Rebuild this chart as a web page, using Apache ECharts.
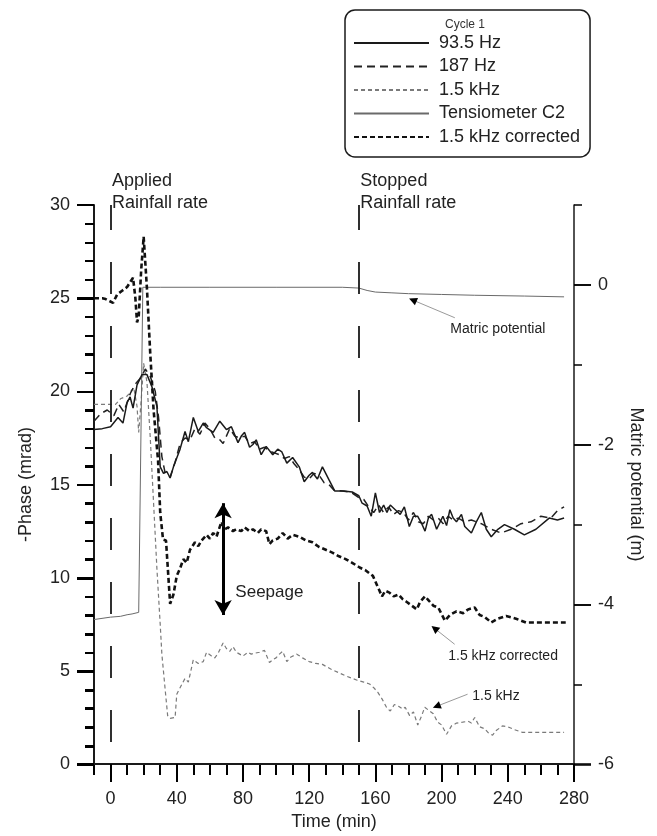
<!DOCTYPE html>
<html>
<head>
<meta charset="utf-8">
<script src="https://cdn.jsdelivr.net/npm/echarts@6/dist/echarts.min.js"></script>
<style>
  html, body { margin: 0; padding: 0; background: #fff; }
  #chart { width: 657px; height: 836px; }
</style>
</head>
<body>
<div id="chart"></div>
<script>
// Time axis (min)
const timeTicks = [0, 40, 80, 120, 160, 200, 240, 280];
const matricMajorTicks = [-6, -4, -2, 0];
const matricMinorTicks = [-5, -3, -1, 1];

// Rainfall applied / stopped (min)
const rainStart = 0;
const rainStop = 150;

// 93.5 Hz
const t935 = [-10, -5, 0, 2.7, 4.5, 7.5, 10, 11.8, 13.6, 16, 19, 22, 25, 28, 30, 32, 34, 36, 38, 42, 45, 47, 50, 53, 56, 58, 62, 66, 70, 73, 77, 79, 81, 84, 86, 88, 91, 94, 98, 101, 103.5, 106.5, 110, 114, 117, 120, 122, 125, 128, 132, 135.5, 141, 146, 150, 152, 155, 157.5, 160, 162.5, 165, 167, 169, 172, 175, 177.5, 180.5, 183, 185.5, 188, 190, 192, 194, 197, 200.8, 203, 205, 207, 209, 212, 214, 218, 221, 224, 227, 230, 234, 238, 244, 250, 257, 265, 270, 274];
const v935 = [17.95, 18.0, 18.1, 18.4, 18.6, 18.3, 19.4, 19.7, 19.1, 20.35, 20.9, 20.9, 20.25, 19.2, 15.95, 15.6, 15.7, 15.35, 15.95, 16.9, 17.85, 17.3, 18.6, 17.85, 18.3, 18.05, 17.8, 18.4, 17.95, 18.1, 17.25, 17.6, 17.8, 17.0, 17.15, 17.4, 16.6, 17.05, 16.6, 16.9, 16.75, 16.15, 16.45, 15.95, 15.15, 15.5, 15.65, 15.3, 15.95, 15.25, 14.65, 14.65, 14.6, 14.4, 14.0, 13.85, 13.3, 14.55, 13.5, 13.9, 13.5, 13.9, 13.65, 13.4, 13.8, 12.75, 13.3, 13.3, 12.9, 12.5, 13.2, 13.4, 12.6, 13.3, 12.8, 13.65, 13.2, 13.0, 13.4, 12.75, 12.4, 13.0, 13.5, 12.6, 12.2, 12.6, 12.85, 12.6, 12.3, 12.6, 13.2, 13.1, 13.2];

// 187 Hz
const t187 = [-10, -6, -2, 2, 5, 8, 12, 15, 18, 21, 24, 27, 29, 31, 33, 36, 39, 42, 45, 48, 51, 54, 57, 60, 63, 66, 68, 72, 75, 78, 81, 84, 87, 90, 93, 96, 99, 102, 105, 108, 111, 114, 117, 120, 123, 126, 129, 132, 135, 140, 145, 150, 153, 156, 159, 162, 165, 168, 171, 174, 177, 180, 183, 186, 189, 192, 195, 198, 201, 204, 207, 210, 214, 218, 224, 230, 236, 242, 248, 254, 260, 266, 270, 274];
const v187 = [18.4, 18.8, 19.0, 18.7, 19.3, 18.9, 19.9, 20.4, 20.7, 21.2, 20.8, 20.0, 18.6, 16.5, 15.6, 15.4, 16.2, 17.2, 17.5, 17.4, 18.0, 17.7, 18.3, 18.0, 17.5, 17.4, 17.2, 18.0, 17.6, 17.5, 17.6, 17.2, 17.3, 16.9, 17.0, 16.8, 16.7, 16.6, 16.4, 16.5, 16.1, 15.8, 15.4, 15.3, 15.6, 15.5, 15.1, 15.0, 14.7, 14.65, 14.6, 14.3, 14.2, 13.8, 13.5, 13.9, 13.5, 13.8, 13.4, 13.6, 13.5, 13.1, 13.5, 13.0, 12.9, 13.3, 13.1, 13.2, 12.9, 13.3, 13.1, 13.2, 13.0, 13.1, 12.9, 12.6, 12.4, 12.6, 12.9, 13.0, 13.3, 13.2, 13.6, 13.8];

// 1.5 kHz
const t15k = [-10, -5, 0, 3, 6, 10, 14, 16, 17, 18.5, 20, 22, 24, 26, 28, 30, 31, 33, 34.5, 36, 39, 40, 42, 45, 47, 50, 53, 56, 58, 61, 63, 65, 68, 70, 72, 74, 76, 78, 80, 83, 85, 87, 90, 93, 96, 98, 100, 102, 104, 106.5, 109, 112.5, 116, 120, 124, 128, 133, 138, 143, 149, 153, 156.5, 159, 161.5, 164, 167, 169, 171.5, 174, 176.5, 178, 180.7, 183, 185.6, 188, 189.8, 192.8, 195, 197.6, 200, 203, 206, 209, 212.7, 216, 218, 220, 223, 226, 228, 230.8, 233, 236.8, 240, 244, 248.9, 255, 262, 268, 274];
const v15k = [19.3, 19.3, 19.3, 19.3, 19.6, 19.75, 20.2, 19.2, 17.8, 19.5, 21.5, 20.5, 17.5, 14.0, 10.5, 7.5, 5.9, 4.0, 2.6, 2.45, 2.5, 3.75, 4.1, 4.6, 4.4, 5.6, 5.4, 5.5, 6.0, 5.8, 5.7, 5.95, 6.5, 6.2, 6.05, 6.3, 6.0, 5.9, 5.8, 6.0, 5.9, 5.95, 6.0, 6.1, 5.45, 5.6, 5.7, 5.9, 6.05, 5.5, 5.75, 5.9, 5.7, 5.5, 5.4, 5.35, 5.1, 4.9, 4.7, 4.5, 4.4, 4.3, 4.1, 3.85, 3.5, 3.0, 2.85, 3.2, 3.1, 2.95, 3.05, 2.6, 2.8, 2.1, 2.6, 3.05, 2.85, 2.7, 2.25, 2.1, 1.6, 2.05, 2.2, 2.25, 2.3, 2.2, 2.5, 2.0, 1.9, 1.7, 1.55, 1.8, 2.05, 2.0, 1.85, 1.7, 1.7, 1.7, 1.7, 1.7];

// Tensiometer C2 (m)
const tTens = [-10, 0, 6, 10, 13, 17, 19.5, 30, 60, 100, 140, 150, 155, 160, 170, 180, 200, 220, 250, 274];
const vTens = [-4.19, -4.16, -4.15, -4.13, -4.12, -4.1, -0.03, -0.03, -0.03, -0.03, -0.03, -0.04, -0.07, -0.09, -0.1, -0.11, -0.12, -0.13, -0.14, -0.15];

// 1.5 kHz corrected
const tCorr = [-10, -5, -3, 1.5, 4, 7, 10, 13.6, 15, 16, 17, 18.5, 20, 22, 24, 26, 28.7, 30, 31.7, 33.5, 36, 38, 40, 42, 44, 46, 48, 51, 53, 55, 58, 60, 62, 64, 67, 69, 71, 74, 76, 79, 81, 84, 86, 89, 91, 94, 96, 98, 101, 104, 107, 110, 114, 118, 122, 126, 130, 134, 138, 142, 146, 150.5, 154, 158.5, 161, 164, 166, 168.5, 171, 174, 176.5, 179, 182, 185, 187, 190, 192, 195, 198, 202, 205, 209, 213, 216, 220, 223, 226, 230, 234, 239, 245, 251, 260, 268, 275];
const vCorr = [25.0, 25.0, 24.95, 24.75, 25.2, 25.4, 25.6, 26.1, 25.0, 23.7, 24.0, 26.5, 28.3, 25.5, 22.0, 19.0, 16.3, 13.5, 12.05, 12.0, 8.6, 9.1, 10.1, 10.5, 11.0, 10.8, 11.5, 11.9, 11.7, 12.0, 12.3, 12.1, 12.4, 12.2, 13.0, 12.6, 12.7, 12.5, 12.6, 12.5, 12.7, 12.5, 12.6, 12.4, 12.6, 12.5, 11.8, 12.0, 12.1, 12.4, 12.1, 12.3, 12.2, 12.0, 11.9, 11.65, 11.5, 11.35, 11.15, 11.0, 10.8, 10.55, 10.4, 10.1, 9.6, 9.0, 9.3, 9.2, 9.0, 9.1, 8.85, 8.7, 8.5, 8.3, 8.7, 9.0, 8.8, 8.5, 8.4, 7.7, 8.0, 8.2, 8.1, 8.3, 8.4, 8.0, 7.9, 7.6, 7.8, 7.95, 7.8, 7.6, 7.6, 7.6, 7.6];

// Seepage span shown by the double arrow (time, low, high)
const seepageTime = 68;
const seepageRange = [8.0, 14.0];

// Callout notes in (time, phase): text anchor, pointer tail, pointer head
const notes = [
  { text: 'Matric potential', at: [205, 23.35], tail: [208, 23.95], head: [182.6, 24.9] },
  { text: '1.5 kHz corrected', at: [203.7, 5.78], tail: [207.9, 6.43], head: [195.8, 7.28] },
  { text: '1.5 kHz', at: [218.2, 3.64], tail: [215.7, 3.75], head: [197, 3.1] }
];

const FONT = "'Liberation Sans', Arial, Helvetica, sans-serif";
const INK = '#1a1a1a';
const TICK = '#000';

function pairs(xs, ys) { return xs.map((x, i) => [x, ys[i]]); }

// A point a small fraction of the way from head back to tail (for the arrowhead stub)
function nearHead(n) {
  const f = 0.08;
  return [n.head[0] + (n.tail[0] - n.head[0]) * f, n.head[1] + (n.tail[1] - n.head[1]) * f];
}

const chart = echarts.init(document.getElementById('chart'), null, { renderer: 'canvas' });

const gridBox = { left: 94, right: 83, top: 205, bottom: 71 };

const hiddenPoint = { symbol: 'circle', symbolSize: 1, itemStyle: { color: 'rgba(0,0,0,0)' } };

// Tick-only axis: no line, no labels, just tick marks of the given length.
function tickAxis(gridIndex, position, min, max, length, width, extra) {
  return Object.assign({
    gridIndex: gridIndex, type: 'value', position: position, min: min, max: max,
    axisLine: { show: false, onZero: false },
    axisTick: Object.assign({ show: true, length: length, lineStyle: { color: TICK, width: width } }, (extra && extra.tick) || {}),
    axisLabel: { show: false },
    splitLine: { show: false }
  }, (extra && extra.axis) || {});
}

// Grid 0 carries the data, axis lines, labels and names.
// Grids 1 and 2 overlay it and carry the minor and major tick marks.
const option = {
  animation: false,
  backgroundColor: '#fff',
  textStyle: { fontFamily: FONT },
  title: {
    text: 'Cycle 1',
    left: 445, top: 19, padding: 0,
    textStyle: { fontSize: 12, fontWeight: 'normal', color: '#333', fontFamily: FONT }
  },
  legend: {
    orient: 'vertical',
    left: 345, top: 10,
    padding: [23, 10, 10, 8],
    itemWidth: 75, itemHeight: 14, itemGap: 3.5,
    borderColor: INK, borderWidth: 1.5, borderRadius: 10,
    backgroundColor: '#fff',
    selectedMode: false,
    itemStyle: { opacity: 0 },
    textStyle: { fontSize: 18, color: '#222', fontFamily: FONT, lineHeight: 20, padding: [0, 0, 0, 5] },
    data: ['93.5 Hz', '187 Hz', '1.5 kHz', 'Tensiometer C2', '1.5 kHz corrected']
  },
  grid: [Object.assign({}, gridBox), Object.assign({}, gridBox), Object.assign({}, gridBox)],
  xAxis: [
    {
      gridIndex: 0, type: 'value', min: -10, max: 280, position: 'bottom',
      axisLine: { show: true, onZero: false, lineStyle: { color: INK, width: 2 } },
      axisTick: { show: true, customValues: timeTicks, length: 17, lineStyle: { color: TICK, width: 2 } },
      axisLabel: { customValues: timeTicks, margin: 26, fontSize: 18, color: '#222', fontFamily: FONT },
      splitLine: { show: false },
      name: 'Time (min)', nameLocation: 'middle', nameGap: 47,
      nameTextStyle: { fontSize: 18, color: '#222', fontFamily: FONT }
    },
    tickAxis(1, 'bottom', -10, 280, 10, 2, { axis: { interval: 10 } }),
    tickAxis(2, 'bottom', -10, 280, 17, 2, { tick: { customValues: timeTicks } })
  ],
  yAxis: [
    {
      gridIndex: 0, type: 'value', position: 'left', min: 0, max: 30, interval: 5,
      axisLine: { show: true, onZero: false, lineStyle: { color: INK, width: 2 } },
      axisTick: { show: true, length: 17, lineStyle: { color: TICK, width: 2 } },
      minorTick: { show: true, splitNumber: 5, length: 9, lineStyle: { color: TICK, width: 2 } },
      minorSplitLine: { show: false },
      axisLabel: { margin: 24, fontSize: 18, color: '#222', fontFamily: FONT },
      splitLine: { show: false },
      name: '-Phase (mrad)', nameLocation: 'middle', nameGap: 59, nameRotate: 90,
      nameTextStyle: { fontSize: 18, color: '#222', fontFamily: FONT }
    },
    {
      gridIndex: 0, type: 'value', position: 'right', min: -6, max: 1,
      axisLine: { show: true, onZero: false, lineStyle: { color: INK, width: 1.5 } },
      axisTick: { show: true, customValues: matricMajorTicks, length: 17, lineStyle: { color: TICK, width: 1.5 } },
      axisLabel: { customValues: matricMajorTicks, margin: 24, fontSize: 18, color: '#222', fontFamily: FONT },
      splitLine: { show: false },
      name: 'Matric potential (m)', nameLocation: 'middle', nameGap: 53, nameRotate: -90,
      nameTextStyle: { fontSize: 18, color: '#222', fontFamily: FONT }
    },
    tickAxis(1, 'right', -6, 1, 8, 1.5, { tick: { customValues: matricMinorTicks } }),
    tickAxis(1, 'left', 0, 30, 9, 2, { axis: { interval: 1 } }),
    tickAxis(2, 'right', -6, 1, 17, 1.5, { tick: { customValues: matricMajorTicks } }),
    tickAxis(2, 'left', 0, 30, 17, 2, { axis: { interval: 5 } })
  ],
  series: [
    {
      name: '93.5 Hz', type: 'line', xAxisIndex: 0, yAxisIndex: 0, clip: false,
      data: pairs(t935, v935), symbol: 'none', z: 4,
      lineStyle: { color: INK, width: 1.5 },
      itemStyle: { color: INK },
      markLine: {
        silent: true, symbol: ['none', 'none'], animation: false,
        label: { show: false },
        lineStyle: { color: INK, width: 1.8, type: [32, 32], dashOffset: 42 },
        data: [
          [{ coord: [rainStart, 0] }, { coord: [rainStart, 30] }],
          [{ coord: [rainStop, 0] }, { coord: [rainStop, 30] }]
        ]
      },
      markPoint: Object.assign({
        silent: true, animation: false,
        label: {
          show: true, position: [2, -34], color: '#222', fontSize: 18, fontFamily: FONT,
          lineHeight: 22, align: 'left', verticalAlign: 'top',
          formatter: (p) => p.name
        },
        data: [
          { name: 'Applied\nRainfall rate', coord: [rainStart, 30] },
          { name: 'Stopped\nRainfall rate', coord: [rainStop, 30] }
        ]
      }, hiddenPoint)
    },
    {
      name: '187 Hz', type: 'line', xAxisIndex: 0, yAxisIndex: 0, clip: false,
      data: pairs(t187, v187), symbol: 'none', z: 3,
      lineStyle: { color: '#222', width: 1.5, type: [8, 5] },
      itemStyle: { color: '#222' },
      // black arrowheads of the callout pointers
      markLine: {
        silent: true, animation: false, z: 12,
        symbol: ['none', 'triangle'], symbolSize: 8,
        label: { show: false },
        lineStyle: { color: '#000', width: 1, type: 'solid' },
        data: notes.map((n) => [{ coord: nearHead(n) }, { coord: n.head }])
      }
    },
    {
      name: '1.5 kHz', type: 'line', xAxisIndex: 0, yAxisIndex: 0, clip: false,
      data: pairs(t15k, v15k), symbol: 'none', z: 2,
      lineStyle: { color: '#7a7a7a', width: 1.2, type: [4, 3] },
      itemStyle: { color: '#7a7a7a' },
      // grey pointer shafts of the callouts
      markLine: {
        silent: true, animation: false, z: 11,
        symbol: ['none', 'none'],
        label: { show: false },
        lineStyle: { color: '#9a9a9a', width: 1, type: 'solid' },
        data: notes.map((n) => [{ coord: n.tail }, { coord: n.head }])
      },
      markPoint: Object.assign({
        silent: true, animation: false,
        label: {
          show: true, position: 'right', distance: 0, color: '#222', fontSize: 14, fontFamily: FONT,
          formatter: (p) => p.name
        },
        data: notes.map((n) => ({ name: n.text, coord: n.at }))
      }, hiddenPoint)
    },
    {
      name: 'Tensiometer C2', type: 'line', xAxisIndex: 0, yAxisIndex: 1,
      data: pairs(tTens, vTens), symbol: 'none', z: 2,
      lineStyle: { color: '#6a6a6a', width: 1 },
      itemStyle: { color: '#6a6a6a' }
    },
    {
      name: '1.5 kHz corrected', type: 'line', xAxisIndex: 0, yAxisIndex: 0, clip: false,
      data: pairs(tCorr, vCorr), symbol: 'none', z: 5,
      lineStyle: { color: '#111', width: 2.6, type: [5, 3] },
      itemStyle: { color: '#111' },
      markLine: {
        silent: true, animation: false,
        symbol: ['arrow', 'arrow'], symbolSize: [13, 15],
        label: { show: false },
        lineStyle: { color: '#000', width: 3, type: 'solid' },
        data: [[{ coord: [seepageTime, seepageRange[0]] }, { coord: [seepageTime, seepageRange[1]] }]]
      },
      markPoint: Object.assign({
        silent: true, animation: false,
        label: {
          show: true, position: 'right', distance: 0, color: '#222', fontSize: 17, fontFamily: FONT,
          formatter: (p) => p.name
        },
        data: [{ name: 'Seepage', coord: [75.1, 9.2] }]
      }, hiddenPoint)
    }
  ]
};

chart.setOption(option);
</script>
</body>
</html>
